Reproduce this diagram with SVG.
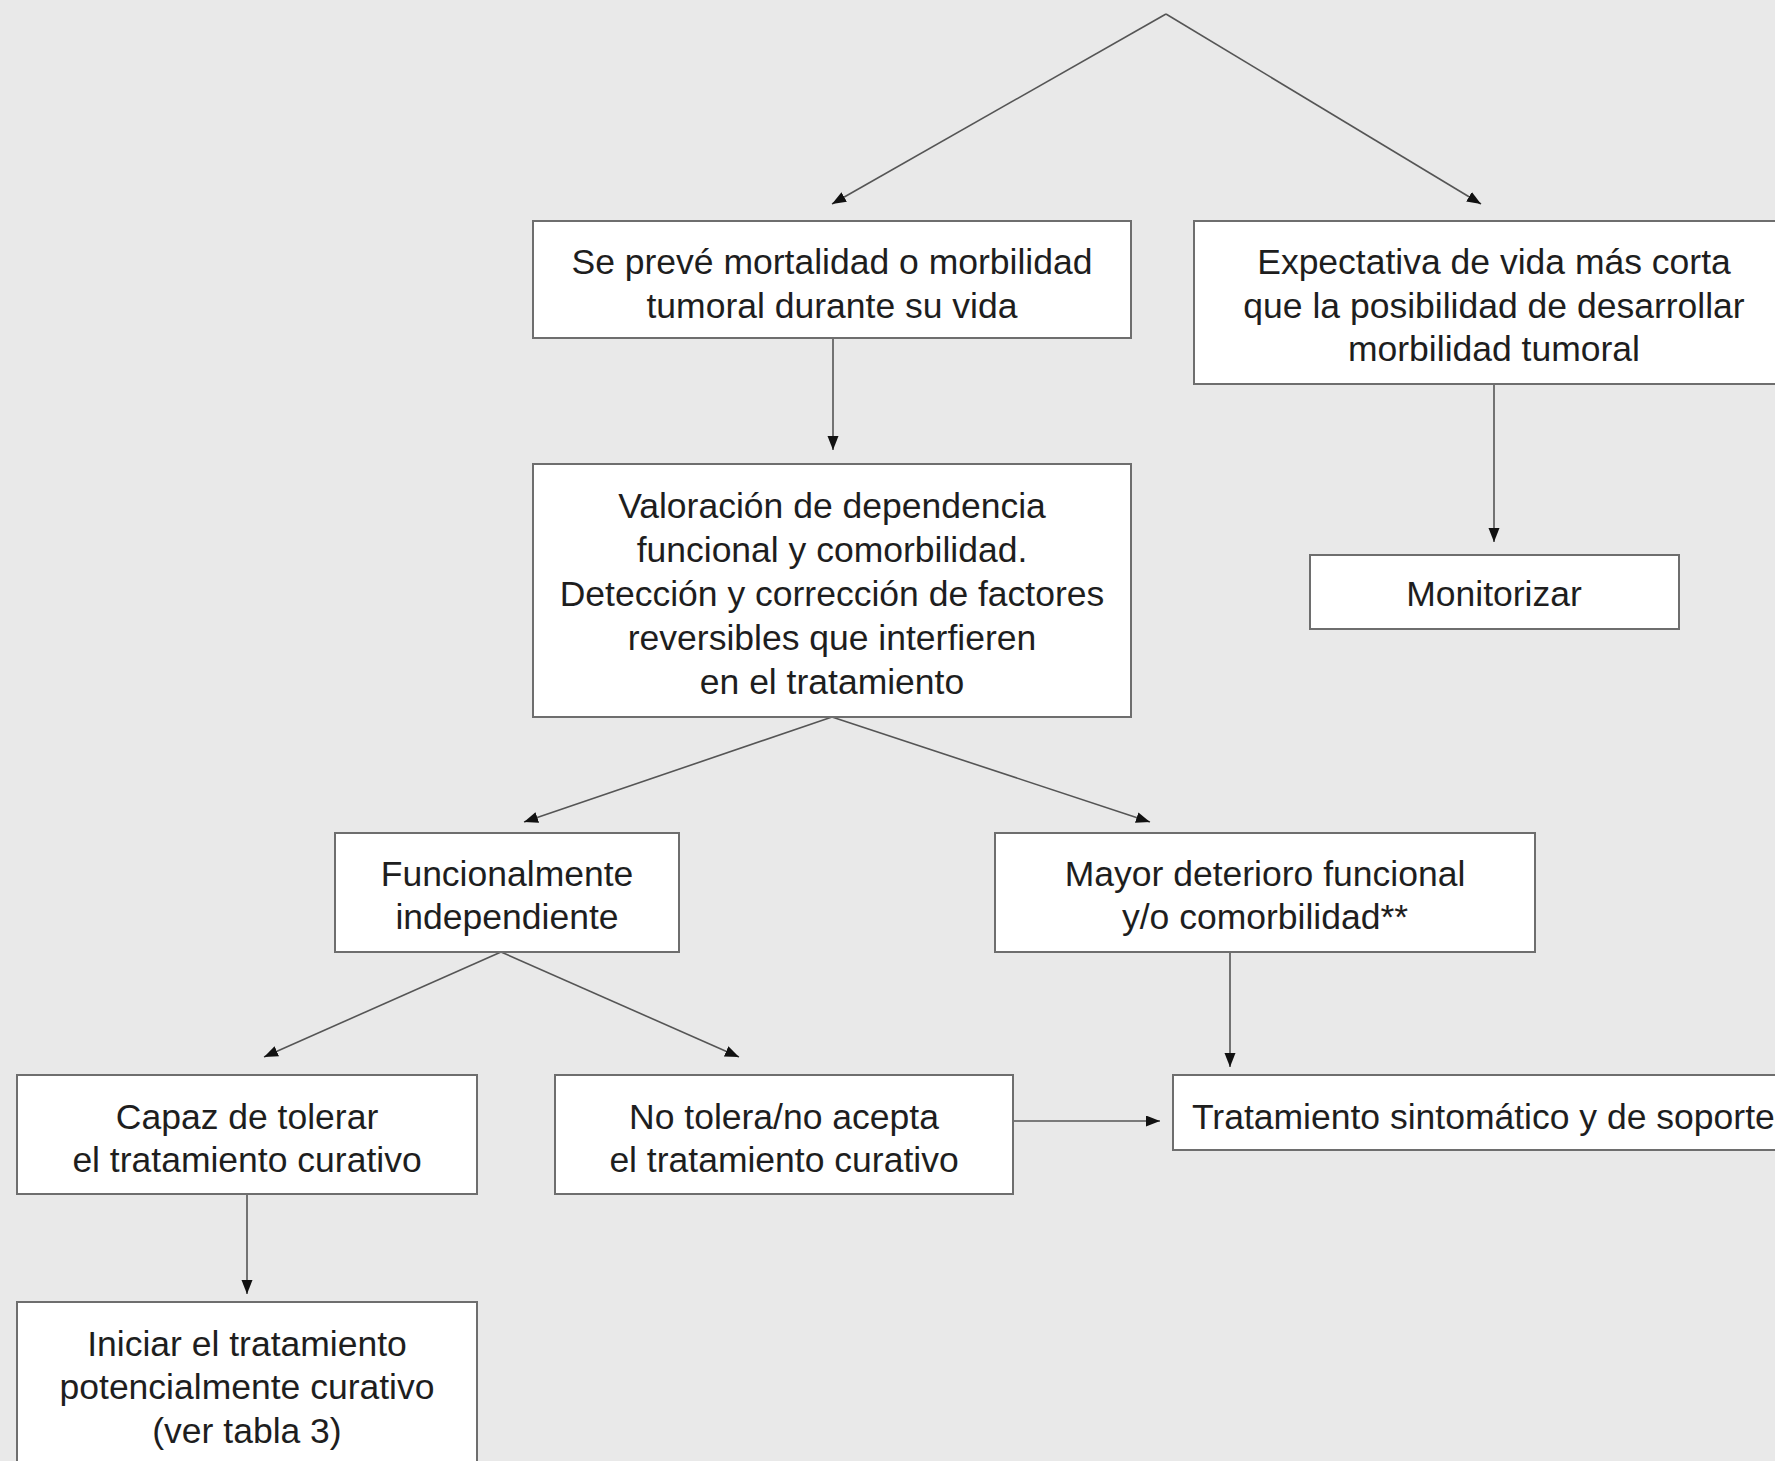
<svg xmlns="http://www.w3.org/2000/svg" width="1775" height="1461" viewBox="0 0 1775 1461">
<defs>
<style>
.box{fill:#ffffff;stroke:#6e6e6e;stroke-width:2}
.t{font-family:"Liberation Sans",Arial,Helvetica,sans-serif;font-size:35.5px;fill:#1e1e1e;text-anchor:middle}
.c{fill:none;stroke:#555555;stroke-width:1.6}
</style>
<marker id="ah" markerUnits="userSpaceOnUse" markerWidth="16" markerHeight="12" refX="14" refY="5.5" orient="auto">
<path d="M0,0 L14,5.5 L0,11 z" fill="#111111"/>
</marker>
</defs>
<rect x="0" y="0" width="1775" height="1461" fill="#e9e9e9"/>
<g id="connectors">
<line class="c" x1="1166" y1="14" x2="832" y2="204" marker-end="url(#ah)"/>
<line class="c" x1="1166" y1="14" x2="1481" y2="204" marker-end="url(#ah)"/>
<line class="c" x1="833" y1="338" x2="833" y2="450" marker-end="url(#ah)"/>
<line class="c" x1="1494" y1="384" x2="1494" y2="542" marker-end="url(#ah)"/>
<line class="c" x1="832" y1="717" x2="524" y2="822" marker-end="url(#ah)"/>
<line class="c" x1="832" y1="717" x2="1150" y2="822" marker-end="url(#ah)"/>
<line class="c" x1="501" y1="952" x2="264" y2="1057" marker-end="url(#ah)"/>
<line class="c" x1="501" y1="952" x2="739" y2="1057" marker-end="url(#ah)"/>
<line class="c" x1="1230" y1="952" x2="1230" y2="1067" marker-end="url(#ah)"/>
<line class="c" x1="1013" y1="1121" x2="1160" y2="1121" marker-end="url(#ah)"/>
<line class="c" x1="247" y1="1194" x2="247" y2="1294" marker-end="url(#ah)"/>
</g>
<g id="nodeA">
<rect class="box" x="533" y="221" width="598" height="117"/>
<text class="t" x="832" y="274">Se prevé mortalidad o morbilidad</text>
<text class="t" x="832" y="318">tumoral durante su vida</text>
</g>
<g id="nodeB">
<rect class="box" x="1194" y="221" width="600" height="163"/>
<text class="t" x="1494" y="274">Expectativa de vida más corta</text>
<text class="t" x="1494" y="318">que la posibilidad de desarrollar</text>
<text class="t" x="1494" y="361">morbilidad tumoral</text>
</g>
<g id="nodeM">
<rect class="box" x="1310" y="555" width="369" height="74"/>
<text class="t" x="1494" y="606">Monitorizar</text>
</g>
<g id="nodeC">
<rect class="box" x="533" y="464" width="598" height="253"/>
<text class="t" x="832" y="518">Valoración de dependencia</text>
<text class="t" x="832" y="562">funcional y comorbilidad.</text>
<text class="t" x="832" y="606">Detección y corrección de factores</text>
<text class="t" x="832" y="650">reversibles que interfieren</text>
<text class="t" x="832" y="694">en el tratamiento</text>
</g>
<g id="nodeF">
<rect class="box" x="335" y="833" width="344" height="119"/>
<text class="t" x="507" y="886">Funcionalmente</text>
<text class="t" x="507" y="929">independiente</text>
</g>
<g id="nodeG">
<rect class="box" x="995" y="833" width="540" height="119"/>
<text class="t" x="1265" y="886">Mayor deterioro funcional</text>
<text class="t" x="1265" y="929">y/o comorbilidad**</text>
</g>
<g id="nodeH">
<rect class="box" x="17" y="1075" width="460" height="119"/>
<text class="t" x="247" y="1129">Capaz de tolerar</text>
<text class="t" x="247" y="1172">el tratamiento curativo</text>
</g>
<g id="nodeI">
<rect class="box" x="555" y="1075" width="458" height="119"/>
<text class="t" x="784" y="1129">No tolera/no acepta</text>
<text class="t" x="784" y="1172">el tratamiento curativo</text>
</g>
<g id="nodeT">
<rect class="box" x="1173" y="1075" width="620" height="75"/>
<text class="t" x="1192" y="1129" style="text-anchor:start">Tratamiento sintomático y de soporte</text>
</g>
<g id="nodeJ">
<rect class="box" x="17" y="1302" width="460" height="180"/>
<text class="t" x="247" y="1356">Iniciar el tratamiento</text>
<text class="t" x="247" y="1399">potencialmente curativo</text>
<text class="t" x="247" y="1443">(ver tabla 3)</text>
</g>
</svg>
